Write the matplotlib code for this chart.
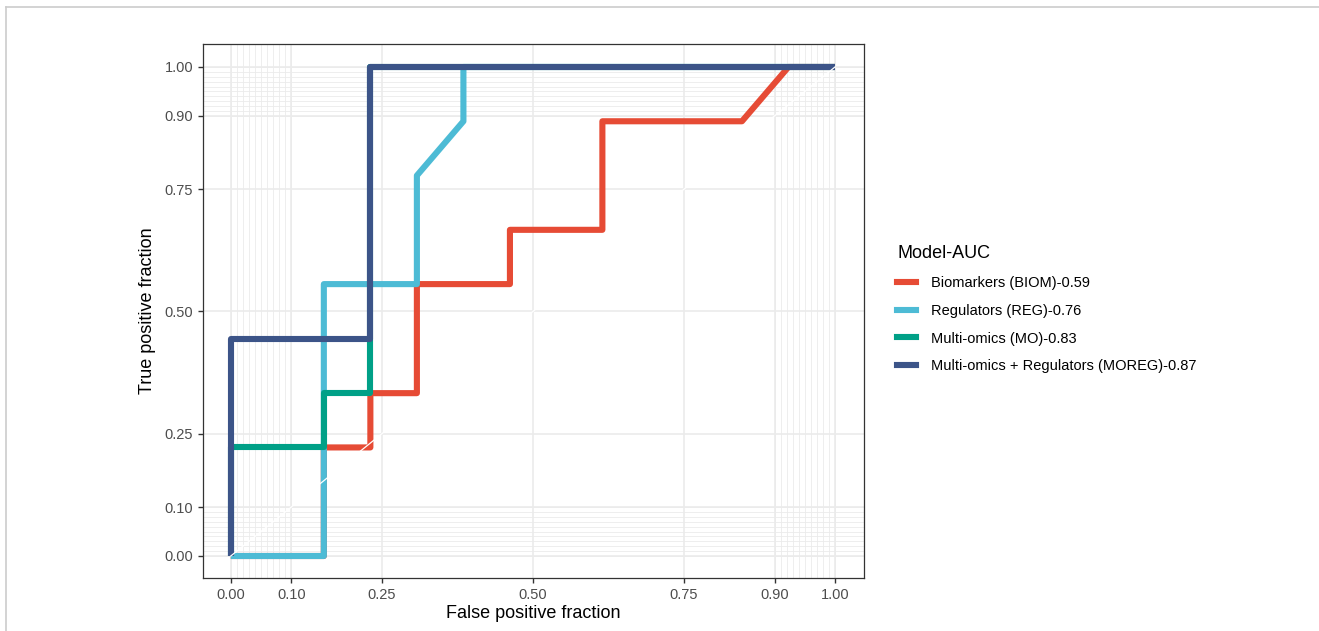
import matplotlib.pyplot as plt
from matplotlib.lines import Line2D
import numpy as np

plt.rcParams['font.family'] = ['Liberation Sans', 'DejaVu Sans']

# ROC curves
fpr_biom = [0, 0.154, 0.154, 0.231, 0.231, 0.308, 0.308, 0.462, 0.462, 0.615, 0.615, 0.846, 0.923, 1.0]
tpr_biom = [0, 0, 0.222, 0.222, 0.333, 0.333, 0.556, 0.556, 0.667, 0.667, 0.889, 0.889, 1.0, 1.0]

fpr_reg = [0, 0.154, 0.154, 0.308, 0.308, 0.385, 0.385, 1.0]
tpr_reg = [0, 0, 0.556, 0.556, 0.778, 0.889, 1.0, 1.0]

fpr_mo = [0, 0, 0.154, 0.154, 0.231, 0.231, 1.0]
tpr_mo = [0, 0.222, 0.222, 0.333, 0.333, 1.0, 1.0]

fpr_moreg = [0, 0, 0.231, 0.231, 1.0]
tpr_moreg = [0, 0.444, 0.444, 1.0, 1.0]

labels = ['Biomarkers (BIOM)-0.59', 'Regulators (REG)-0.76',
          'Multi-omics (MO)-0.83', 'Multi-omics + Regulators (MOREG)-0.87']
colors = ['#E64B35', '#4DBBD5', '#00A087', '#3C5488']

ticks = [0, 0.1, 0.25, 0.5, 0.75, 0.9, 1.0]
tick_labels = ['0.00', '0.10', '0.25', '0.50', '0.75', '0.90', '1.00']
minor = [round(v, 2) for v in list(np.arange(0, 0.101, 0.01)) + list(np.arange(0.9, 1.001, 0.01))]

fig = plt.figure(figsize=(13.19, 6.31), dpi=100)
ax = fig.add_axes([203/1319, 53/631, 661/1319, 534/631])

for v in minor:
    ax.axvline(v, color='#EBEBEB', lw=0.6, zorder=0)
    ax.axhline(v, color='#EBEBEB', lw=0.6, zorder=0)
for v in ticks:
    ax.axvline(v, color='#EBEBEB', lw=1.2, zorder=0)
    ax.axhline(v, color='#EBEBEB', lw=1.2, zorder=0)

curves = [(fpr_biom, tpr_biom), (fpr_reg, tpr_reg), (fpr_mo, tpr_mo), (fpr_moreg, tpr_moreg)]
for (x, y), c, lab in zip(curves, colors, labels):
    ax.plot(x, y, color=c, lw=4.4, label=lab, solid_joinstyle='round',
            solid_capstyle='butt', zorder=2)

ax.plot([0, 1], [0, 1], color='white', lw=0.9, zorder=3)

ax.set_xlim(-0.046, 1.048)
ax.set_ylim(-0.045, 1.047)
ax.set_xticks(ticks)
ax.set_xticklabels(tick_labels)
ax.set_yticks(ticks)
ax.set_yticklabels(tick_labels)
ax.tick_params(length=3.5, width=1.0, color='#333333', labelcolor='#4D4D4D', labelsize=10.5)
for s in ax.spines.values():
    s.set_color('#333333')
    s.set_linewidth(0.9)

ax.set_xlabel('False positive fraction', fontsize=13, labelpad=2)
ax.set_ylabel('True positive fraction', fontsize=13, labelpad=6)

handles = [Line2D([], [], color=c, lw=4.4) for c in colors]
leg = fig.legend(handles, labels, title='Model-AUC', loc='center left',
                 bbox_to_anchor=(884/1319, 0.51), frameon=False, fontsize=10.5,
                 title_fontsize=13, handlelength=1.3, handletextpad=1.0,
                 labelspacing=0.95)
leg._legend_box.align = 'left'

# light frame around the image
fig.add_artist(Line2D([6/1319, 1], [1 - 7/631, 1 - 7/631], color='#CCCCCC', lw=1.2))
fig.add_artist(Line2D([6/1319, 6/1319], [0, 1 - 7/631], color='#CCCCCC', lw=1.2))

fig.savefig('out.png', dpi=100)
